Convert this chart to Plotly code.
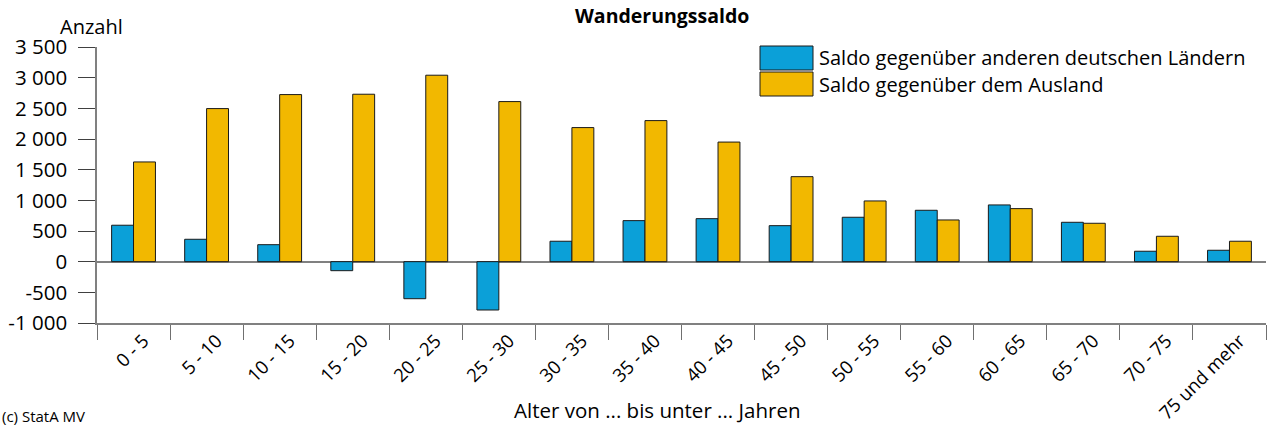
import plotly.graph_objects as go

categories = ["0 - 5", "5 - 10", "10 - 15", "15 - 20", "20 - 25", "25 - 30", "30 - 35",
              "35 - 40", "40 - 45", "45 - 50", "50 - 55", "55 - 60", "60 - 65", "65 - 70",
              "70 - 75", "75 und mehr"]
saldo_laender = [594, 365, 277, -147, -604, -788, 333, 669, 701, 587, 724, 838, 925, 642, 170, 186]
saldo_ausland = [1626, 2496, 2724, 2730, 3040, 2610, 2186, 2300, 1950, 1386, 990, 680, 865, 626, 414, 333]
y_tickvals = [-1000, -500, 0, 500, 1000, 1500, 2000, 2500, 3000, 3500]
y_ticktext = ["-1 000", "-500", "0", "500", "1 000", "1 500", "2 000", "2 500", "3 000", "3 500"]
series_names = ["Saldo gegenüber anderen deutschen Ländern", "Saldo gegenüber dem Ausland"]
colors = ["#0ba0d8", "#f2b800"]

FONT = "Open Sans"
FS = 20
fig = go.Figure()
for name, vals, col in zip(series_names, [saldo_laender, saldo_ausland], colors):
    fig.add_trace(go.Bar(x=categories, y=vals, name=name, marker_color=col,
                         marker_line_color="#1a1a1a", marker_line_width=1, showlegend=False))

fig.update_layout(
    width=1271, height=426,
    margin=dict(l=97, r=5, t=47, b=103, autoexpand=False),
    plot_bgcolor="white", paper_bgcolor="white",
    barmode="group", bargap=0.4, bargroupgap=0,
    font=dict(family=FONT, size=FS, color="#000"),
)
fig.update_xaxes(type="category", range=[-0.5, 15.5], tickson="boundaries", ticks="outside",
                 ticklen=15, tickcolor="#707070", tickwidth=1.3, showline=True,
                 linecolor="#808080", linewidth=1.5, tickangle=-45, showgrid=False,
                 automargin=False, ticklabelstandoff=-2, ticklabelshift=10,
                 tickfont=dict(family=FONT, size=18.5))
fig.update_yaxes(range=[-1000, 3500], tickvals=y_tickvals, ticktext=y_ticktext,
                 ticks="outside", ticklen=17, tickcolor="#404040", tickwidth=1.3,
                 showline=True, linecolor="#808080", linewidth=1.5, showgrid=False,
                 zeroline=True, zerolinecolor="#808080", zerolinewidth=1.5,
                 automargin=False, ticklabelstandoff=7, tickfont=dict(family=FONT, size=20.5))

# legend (custom, wide swatches)
W = 1169.0
H = 276.0
def px(x):
    return (x - 97) / W
def py(y):
    return (323 - y) / H

for i, (name, col) in enumerate(zip(series_names, colors)):
    y0 = 46 + i * 26
    fig.add_shape(type="rect", xref="paper", yref="paper", x0=px(760), x1=px(813),
                  y0=py(y0 + 24), y1=py(y0), fillcolor=col, line=dict(color="#1a1a1a", width=1))
    fig.add_annotation(text=name, xref="paper", yref="paper", x=px(817), y=py(y0 + 12),
                       xanchor="left", yanchor="middle", showarrow=False,
                       font=dict(family=FONT, size=FS))

fig.add_annotation(text="<b>Wanderungssaldo</b>", xref="paper", yref="paper", x=px(662), y=py(16),
                   xanchor="center", yanchor="middle", showarrow=False, font=dict(family=FONT, size=19.5))
fig.add_annotation(text="Anzahl", xref="paper", yref="paper", x=px(91), y=py(27),
                   xanchor="center", yanchor="middle", showarrow=False, font=dict(family=FONT, size=FS))
fig.add_annotation(text="Alter von ... bis unter ... Jahren", xref="paper", yref="paper", x=px(657), y=py(410),
                   xanchor="center", yanchor="middle", showarrow=False, font=dict(family=FONT, size=20.5))
fig.add_annotation(text="(c) StatA MV", xref="paper", yref="paper", x=px(0), y=py(416),
                   xanchor="left", yanchor="middle", showarrow=False, font=dict(family=FONT, size=15))

fig.write_html("out.html", config={"displayModeBar": False},
               post_script="document.documentElement.style.margin='0';document.body.style.margin='0';document.body.style.overflow='hidden';")
